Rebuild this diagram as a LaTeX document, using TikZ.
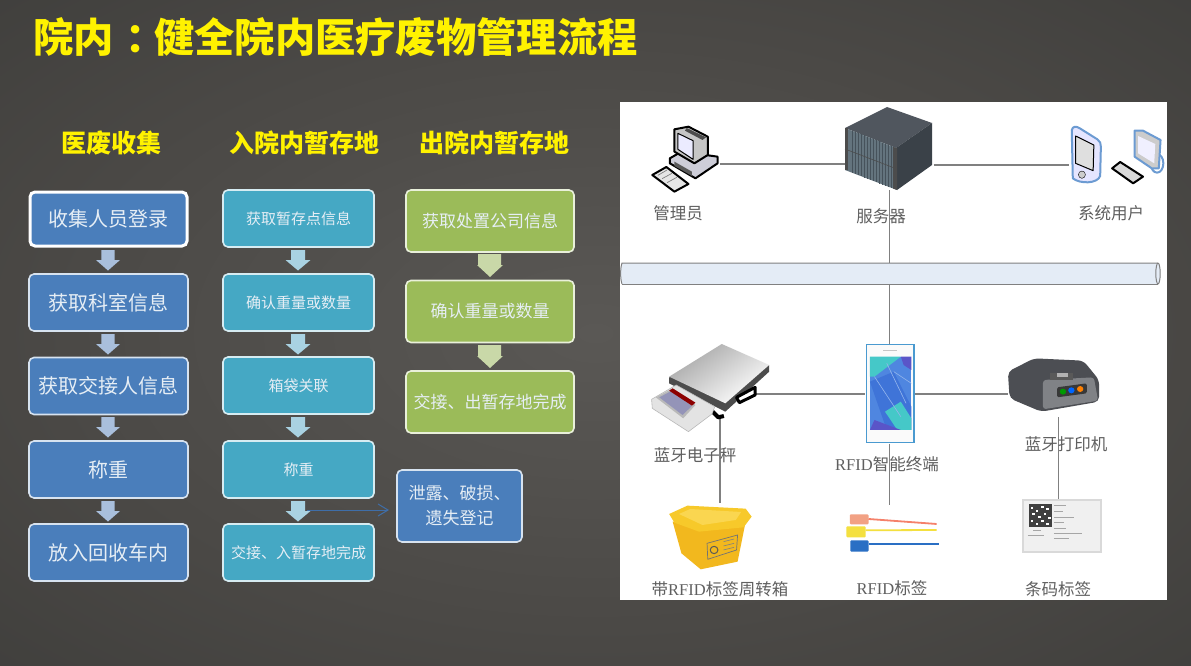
\documentclass[tikz,border=0pt]{standalone}
\usepackage{fontspec}
\setmainfont{Noto Sans CJK SC}
\newfontfamily\latinserif{Liberation Serif}
\usetikzlibrary{arrows.meta}
\definecolor{bgin}{HTML}{5A5855}
\definecolor{bgmid}{HTML}{4B4946}
\definecolor{bgout}{HTML}{363634}
\pgfdeclareradialshading{bgsh}{\pgfpoint{0bp}{0bp}}{color(0bp)=(bgin); color(22bp)=(bgmid); color(50bp)=(bgout); color(100bp)=(bgout)}
\definecolor{cblue}{HTML}{4A7EBB}
\definecolor{cteal}{HTML}{45A8C4}
\definecolor{cgreen}{HTML}{9BBB59}
\definecolor{txtl}{HTML}{E6EEF5}
\definecolor{conn}{HTML}{808080}
\definecolor{lab}{HTML}{5F5F5F}
\definecolor{arA}{HTML}{A9BFDC}
\definecolor{arB}{HTML}{A9D2E2}
\definecolor{arC}{HTML}{C9D8A8}
\definecolor{thinar}{HTML}{3F6EA8}
\definecolor{busc}{HTML}{E4ECF6}
\definecolor{srvtop}{HTML}{50565E}
\definecolor{srvfront}{HTML}{64747E}
\definecolor{srvside}{HTML}{3A4148}
\definecolor{srvline}{HTML}{46525B}
\definecolor{usr}{HTML}{6C9BD2}
\definecolor{phside}{HTML}{4A9AD0}
\definecolor{pha}{HTML}{4F86E0}
\definecolor{phb}{HTML}{45C8C8}
\definecolor{phc}{HTML}{3F74D8}
\definecolor{phd}{HTML}{5A55C8}
\definecolor{pra}{HTML}{4C4E53}
\definecolor{prb}{HTML}{808286}
\definecolor{yla}{HTML}{F7C92A}
\definecolor{ylb}{HTML}{F2B81E}
\definecolor{ylc}{HTML}{FAD650}
\definecolor{tga}{HTML}{F2A184}
\definecolor{tgb}{HTML}{F4E040}
\definecolor{tgc}{HTML}{2A6FC4}
\tikzset{
  x=1pt,y=-1pt,
  flow/.style={rounded corners=5pt,draw=#1!22!white,line width=1.6pt,text=txtl,inner sep=0pt,align=center},
  bluebox/.style={flow=cblue,fill=cblue,minimum width=159pt,minimum height=57pt,font=\fontsize{20}{24}\selectfont},
  tealbox/.style={flow=cteal,fill=cteal,minimum width=151pt,minimum height=57pt,font=\fontsize{15}{18}\selectfont},
  greenbox/.style={flow=cgreen,fill=cgreen,minimum width=168pt,minimum height=62pt,font=\fontsize{17}{20}\selectfont},
  head/.style={text=yellow,font=\fontsize{25}{30}\selectfont\bfseries,inner sep=0pt},
  lbl/.style={text=lab,font=\fontsize{16.5}{19}\selectfont,inner sep=0pt},
  icon/.style={inner sep=0pt,minimum width=#1},
  link/.style={draw=conn,line width=1.1pt},
  zone/.style={shift={(620,100)},xscale=0.351,yscale=0.3333},
  zonb/.style={shift={(620,340)},xscale=0.351,yscale=0.3333},
}
\newcommand{\downblock}[4]{% x, y top, colour, half width
  \fill[#3] (#1-#4*0.56,#2) -- (#1+#4*0.56,#2) -- (#1+#4*0.56,#2+10) -- (#1+#4,#2+10) -- (#1,#2+20.5) -- (#1-#4,#2+10) -- (#1-#4*0.56,#2+10) -- cycle;
}
\begin{document}
\begin{tikzpicture}
\useasboundingbox (0,0) rectangle (1191,666);
\fill[shading=bgsh] (0,0) rectangle (1191,666);
% title
\node[text=yellow,font=\fontsize{40.3}{48}\selectfont\bfseries,inner sep=0pt,anchor=west] (title) at (33,37) {院内\kern12pt：\kern-12pt健全院内医疗废物管理流程};
% headers
\node[head] (h1) at (111,143) {医废收集};
\node[head] (h2) at (304.5,143) {入院内暂存地};
\node[head] (h3) at (494,143) {出院内暂存地};
% block arrows
\foreach \y in {250,334,417,501} {\downblock{108}{\y}{arA}{12}}
\foreach \y in {250,334,417,501} {\downblock{298}{\y}{arB}{12.5}}
\foreach \y in {254,345} {\fill[arC] (478,\y) -- (501,\y) -- (501,\y+11) -- (503,\y+11) -- (490,\y+23) -- (477,\y+11) -- (478,\y+11) -- cycle;}
% column 1
\node[bluebox,draw=white,line width=3pt,minimum width=157pt,minimum height=54pt] (a1) at (108.5,219) {收集人员登录};
\node[bluebox] (a2) at (108.5,302.5) {获取科室信息};
\node[bluebox] (a3) at (108.5,386) {获取交接人信息};
\node[bluebox] (a4) at (108.5,469.5) {称重};
\node[bluebox] (a5) at (108.5,552.5) {放入回收车内};
% column 2
\node[tealbox] (b1) at (298.5,218.5) {获取暂存点信息};
\node[tealbox] (b2) at (298.5,302.5) {确认重量或数量};
\node[tealbox] (b3) at (298.5,385.5) {箱袋关联};
\node[tealbox] (b4) at (298.5,469.5) {称重};
\node[tealbox] (b5) at (298.5,552.5) {交接、入暂存地完成};
% column 3
\node[greenbox] (c1) at (490,221) {获取处置公司信息};
\node[greenbox] (c2) at (490,311.5) {确认重量或数量};
\node[greenbox] (c3) at (490,402) {交接、出暂存地完成};
% side box
\node[flow=cblue,fill=cblue,minimum width=125pt,minimum height=72pt,font=\fontsize{17}{25}\selectfont] (s) at (459.5,506) {泄露、破损、\\遗失登记};
\coordinate (sp) at (307,510);
\coordinate (se) at (389,510);
\draw[draw=thinar,line width=1pt,-{Straight Barb[length=10pt,width=12pt]}] (sp) -- (se);
% panel
\fill[white] (620,102) rectangle (1167,600);
% icon anchors (invisible)
\path node[icon=69pt,minimum height=60pt] (admin) at (685.5,164) {}
      node[icon=88pt,minimum height=52pt] (server) at (889.5,164) {}
      node[icon=96pt,minimum height=60pt] (users) at (1117,165) {}
      node[icon=70pt,minimum height=48pt] (scale) at (720,394) {}
      node[icon=49pt,minimum height=99pt] (phone) at (889.5,394) {}
      node[icon=101pt,minimum height=46pt] (printer) at (1058.5,394) {}
      node[icon=83pt,minimum height=66pt] (box) at (720,536) {}
      node[icon=91pt,minimum height=50pt] (tags) at (889.5,530) {}
      node[icon=79pt,minimum height=54pt] (code) at (1058.5,526) {};
% bus
\fill[busc] (622,263) -- (1158,263) -- (1158,284) -- (622,284) .. controls (620.2,279) and (620.2,268) .. (622,263) -- cycle;
\node[icon=536pt,minimum height=21pt,inner sep=0pt] (bus) at (890,273.5) {};
\draw[conn,line width=1pt] (622,284) .. controls (620.2,279) and (620.2,268) .. (622,263) -- (1158,263);
\draw[conn,line width=1pt] (622,284) -- (1158,284);
\draw[conn,line width=1pt,fill=busc] (1158,263) arc[x radius=2.2,y radius=10.5,start angle=-90,end angle=90] arc[x radius=2.2,y radius=10.5,start angle=90,end angle=270];
% connectors
\draw[link] (admin.east) -- (server.west);
\draw[link] (server.east |- users.west) -- (users.west);
\draw[link] (server.south) -- (server.south |- bus.north);
\draw[link] (phone.north) -- (phone.north |- bus.south);
\draw[link] (scale.east) -- (phone.west);
\draw[link] (phone.east) -- (printer.west);
\draw[link] (scale.south) -- (box.north);
\draw[link] (phone.south) -- (tags.north);
\draw[link] (printer.south) -- (code.north);
% admin PC
\begin{scope}[zone,line join=round]
 \draw[black,line width=2pt,fill=gray!20] (92,225) -- (132,201) -- (195,252) -- (155,275) -- cycle;
 \draw[gray,line width=.7pt] (108,226) -- (134,210) (120,236) -- (148,220) (134,248) -- (162,232);
 \draw[black,line width=2pt,fill=blue!12!gray!35] (142,175) -- (175,155) -- (278,170) -- (278,190) -- (215,235) -- (142,190) -- cycle;
 \fill[gray!70!black] (155,185) -- (205,215) -- (205,228) -- (155,198) -- cycle;
 \draw[black,line width=2pt,fill=gray!45] (155,88) -- (195,80) -- (250,110) -- (250,165) -- (212,190) -- (155,155) -- cycle;
 \draw[black,line width=1pt,fill=blue!8!white] (165,100) -- (208,122) -- (208,178) -- (165,148) -- cycle;
 \fill[black!70] (190,84) -- (245,112) -- (235,120) -- (185,92) -- cycle;
\end{scope}
% server
\begin{scope}[line join=round]
 \fill[srvtop] (845,128) -- (887,107) -- (932,123) -- (896,148) -- cycle;
 \fill[srvfront] (845,128) -- (896,148) -- (897,190) -- (845,170) -- cycle;
 \fill[srvside] (896,148) -- (932,123) -- (932,165) -- (897,190) -- cycle;
 \foreach \i in {1,...,14} {\draw[srvline,line width=.6pt] (849+\i*3,129.5+\i*1.2) -- (849+\i*3,171.5+\i*1.2);}
 \draw[black!70,line width=.6pt] (845,149) -- (897,169);
 \fill[black!70] (845,128) rectangle (848,170);
 \fill[black!70] (893,147) -- (897,148) -- (897,190) -- (893,188.5) -- cycle;
\end{scope}
% users
\begin{scope}[zone,line join=round]
 \draw[usr,line width=2pt,fill=blue!10!white] (1287,90) .. controls (1290,78) and (1300,78) .. (1310,85) -- (1360,118) .. controls (1368,124) and (1370,130) .. (1370,140) -- (1368,228) .. controls (1360,252) and (1310,252) .. (1290,235) -- cycle;
 \draw[black,line width=1pt,fill=gray!25] (1298,108) -- (1350,135) -- (1348,212) -- (1298,190) -- cycle;
 \draw[black,fill=gray!40] (1316,224) ellipse[x radius=10,y radius=11];
 \draw[usr,line width=2pt,fill=white] (1530,190) ellipse[x radius=18,y radius=28];
 \draw[usr,line width=2pt,fill=gray!40] (1466,92) -- (1490,92) -- (1540,120) -- (1535,205) -- (1515,205) -- (1466,170) -- cycle;
 \fill[blue!6!white] (1476,108) -- (1525,132) -- (1522,190) -- (1476,160) -- cycle;
 \draw[black,line width=2pt,fill=gray!30] (1402,205) -- (1425,186) -- (1490,230) -- (1462,250) -- cycle;
\end{scope}
% scale
\begin{scope}[zonb,line join=round]
 \fill[gray!60!black] (140,112) -- (140,130) -- (300,215) -- (425,95) -- (425,75) -- cycle;
 \draw[black,line width=3pt,line cap=round,fill=white] (332,172) -- (385,142) -- (385,165) -- (340,188) -- cycle;
 \shade[left color=gray!70,right color=white,shading angle=35] (140,110) -- (290,12) -- (425,75) -- (300,190) -- cycle;
 \draw[black,line width=4pt] (255,205) -- (280,232) -- (296,228);
 \draw[gray!55,line width=.6pt,fill=gray!22] (90,178) -- (160,135) -- (270,200) -- (262,222) -- (195,275) -- (92,205) -- cycle;
 \fill[gray!55] (102,172) -- (150,145) -- (215,195) -- (180,235) -- cycle;
 \fill[blue!20!gray!70] (112,172) -- (148,152) -- (205,198) -- (178,225) -- cycle;
 \fill[red!55!black] (150,145) -- (215,188) -- (205,197) -- (140,152) -- cycle;
\end{scope}
% phone
\begin{scope}[zonb,line join=round]
 \fill[phside] (700,12) rectangle (840,310);
 \fill[gray!4] (705,15) rectangle (835,307);
 \fill[gray!45] (750,30) rectangle (790,34);
 \fill[pha] (712,50) rectangle (830,270);
 \fill[phb] (712,50) -- (800,50) -- (725,110) -- (712,110) -- cycle;
 \fill[phc] (712,125) -- (780,95) -- (830,200) -- (830,270) -- (760,270) -- cycle;
 \fill[phd] (800,50) -- (830,50) -- (830,90) -- (808,75) -- cycle;
 \fill[phb] (755,215) -- (800,185) -- (830,235) -- (830,270) -- (790,270) -- cycle;
 \fill[phd] (725,240) -- (800,270) -- (712,270) -- cycle;
 \draw[pha!60!white,line width=.6pt] (725,110) -- (800,230) (780,95) -- (830,130) (760,70) -- (815,190);
\end{scope}
% printer
\begin{scope}[zonb,line join=round]
 \fill[pra,rounded corners=5pt] (1105,95) -- (1180,55) -- (1320,62) -- (1365,120) -- (1365,185) -- (1200,215) -- (1110,175) -- cycle;
 \fill[prb,rounded corners=3pt] (1205,120) -- (1350,112) -- (1362,182) -- (1205,208) -- cycle;
 \fill[black!78,rounded corners=1.5pt] (1245,142) -- (1330,130) -- (1330,160) -- (1245,172) -- cycle;
 \fill[green!60!black] (1262,155) circle[radius=9];
 \fill[blue!60!cyan] (1286,151) circle[radius=9];
 \fill[orange] (1311,147) circle[radius=9];
 \fill[black!65] (1225,100) rectangle (1290,120);
 \fill[gray!60] (1245,98) rectangle (1275,112);
\end{scope}
% box
\begin{scope}[zonb,line join=round]
 \fill[ylb] (150,545) -- (358,545) -- (335,665) -- (230,688) -- (175,640) -- cycle;
 \fill[yla] (140,522) -- (192,497) -- (358,506) -- (375,530) -- (352,562) -- (225,575) -- (155,548) -- cycle;
 \fill[ylc] (168,522) -- (200,507) -- (345,516) -- (330,540) -- (235,555) -- cycle;
 \draw[black!55,line width=.7pt] (248,610) -- (335,585) -- (332,630) -- (250,658) -- cycle;
 \draw[black!65,line width=1pt] (268,630) circle[radius=11];
 \draw[black!50,line width=.6pt] (295,605) -- (325,597) (295,618) -- (325,610) (295,630) -- (325,622);
\end{scope}
% tags
\begin{scope}[zonb]
 \fill[tga,rounded corners=1pt] (655,523) rectangle (708,553);
 \draw[tga!80!red,line width=1.8pt] (708,537) -- (902,552);
 \fill[tgb,rounded corners=1pt] (645,559) rectangle (700,592);
 \draw[tgb,line width=1.8pt] (700,571) -- (902,570);
 \fill[tgc,rounded corners=1pt] (656,601) rectangle (708,635);
 \draw[tgc,line width=1.8pt] (708,613) -- (908,613);
\end{scope}
% code label
\begin{scope}[zonb]
 \fill[gray!30] (1145,478) rectangle (1372,638);
 \fill[gray!12] (1150,484) rectangle (1368,632);
 \fill[black!75] (1165,492) rectangle (1230,562);
 \foreach \a/\b in {1170/500,1185/510,1200/497,1215/505,1175/520,1192/528,1208/518,1220/530,1170/540,1185/548,1200/540,1215/548}
   {\fill[white] (\a,\b) rectangle (\a+7,\b+6);}
 \foreach \y/\w in {497/35,515/26,532/58,547/28,565/35,580/80,595/42}
   {\draw[gray!70,line width=.7pt] (1236,\y) -- (1236+\w,\y);}
 \draw[gray!70,line width=.7pt] (1178,570) -- (1200,570) (1162,585) -- (1208,585);
\end{scope}
% labels
\node[lbl] (l1) at (678,213) {管理员};
\node[lbl] (l2) at (881,216) {服务器};
\node[lbl] (l3) at (1111,213) {系统用户};
\node[lbl] (l4) at (695,455) {蓝牙电子秤};
\node[lbl] (l5) at (887,464) {{\latinserif RFID}智能终端};
\node[lbl] (l6) at (1066,444) {蓝牙打印机};
\node[lbl] (l7) at (720,589) {带{\latinserif RFID}标签周转箱};
\node[lbl] (l8) at (892,588) {{\latinserif RFID}标签};
\node[lbl] (l9) at (1058,589) {条码标签};
\end{tikzpicture}
\end{document}
